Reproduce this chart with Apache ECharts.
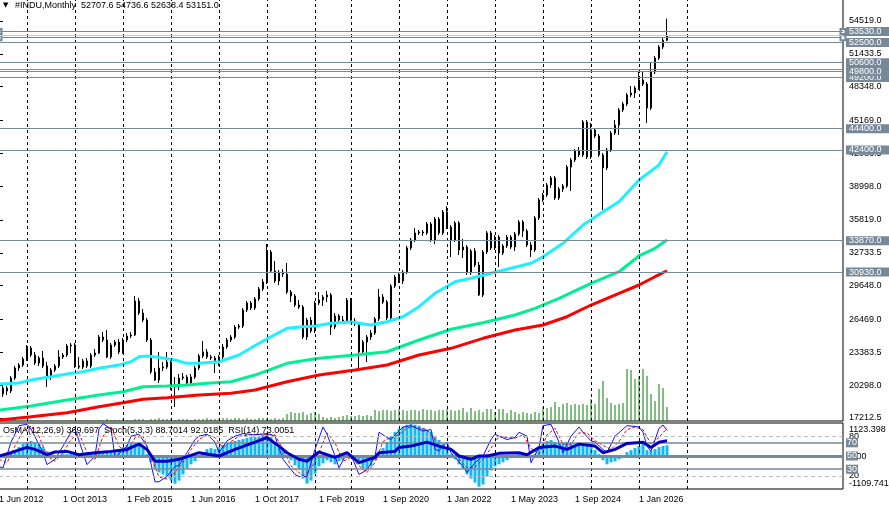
<!DOCTYPE html>
<html>
<head>
<meta charset="utf-8">
<script src="https://cdn.jsdelivr.net/npm/echarts@6/dist/echarts.min.js"></script>
<style>
html, body { margin: 0; padding: 0; background: #ffffff; }
#chart { width: 889px; height: 506px; }
</style>
</head>
<body>
<div id="chart"></div>
<script>
// 功能目的:
// 复刻 MT4 的 #INDU 月线图：蜡烛、三条均线、成交量、价位线，以及下方 OsMA / Stoch / RSI 副图。
//
// 作用范围:
// 数值都从截图估读，按 bar 序号排列；日期标签由起始月份和缺失月份生成。

const 起始年 = 2012
const 起始月 = 6
const 缺失月份 = ['2019-6', '2019-7', '2019-8']
const 总槽位 = 212
const 月份简称 = ['Jan', 'Feb', 'Mar', 'Apr', 'May', 'Jun', 'Jul', 'Aug', 'Sep', 'Oct', 'Nov', 'Dec']
const 标签间隔 = 16
const 网格最远序号 = 175

const 开盘价 = [18810, 19470, 20030, 19750, 20970, 21910, 22190, 22760, 23790, 23130,
  22380, 22850, 22100, 21070, 21720, 22100, 22950, 23130, 23980, 24070,
  22100, 22000, 22570, 22100, 23130, 23320, 24820, 24540, 22950, 24070,
  24350, 23420, 24540, 24920, 25010, 28210, 27080, 26420, 24540, 21540,
  20780, 21910, 22000, 22480, 20310, 20130, 20970, 21070, 20500, 21070,
  21910, 23040, 23420, 22950, 22850, 22380, 22950, 23890, 24540, 24820,
  25760, 25860, 27360, 28020, 27550, 28400, 29340, 29990, 32810, 31030,
  30090, 30930, 30740, 29050, 28680, 27830, 27640, 24820, 26420, 25390,
  28020, 28300, 28580, 28770, 25760, 26800, 26420, 26330, 28300, 26330,
  26050, 23420, 24350, 24820, 25200, 26520, 28580, 28110, 26610, 29620,
  30460, 30090, 30930, 33190, 33940, 34600, 34690, 34600, 35440, 33940,
  35910, 34600, 36570, 35160, 33940, 35540, 33000, 33280, 30840, 32910,
  31590, 28770, 32810, 34600, 33190, 34220, 32720, 33380, 34220, 33280,
  34500, 35630, 34790, 33470, 33000, 36010, 37700, 38170, 39110, 39770,
  37890, 38730, 39010, 40800, 41460, 42300, 41930, 45030, 41740, 44280,
  43710, 41930, 40710, 42400, 43990, 44740, 46160, 46720, 47570, 47750,
  48220, 48970, 48600, 46340, 49730, 51040, 52080, 52707.6]

const 收盘价 = [19470, 20030, 19750, 20970, 21910, 22190, 22760, 23790, 23130, 22380,
  22850, 22100, 21070, 21720, 22100, 22950, 23130, 23980, 24070, 22100,
  22000, 22570, 22100, 23130, 23320, 24820, 24540, 22950, 24070, 24350,
  23420, 24540, 24920, 25010, 28210, 27080, 26420, 24540, 21540, 20780,
  21910, 22000, 22480, 20310, 20130, 20970, 21070, 20500, 21070, 21910,
  23040, 23420, 22950, 22850, 22380, 22950, 23890, 24540, 24820, 25760,
  25860, 27360, 28020, 27550, 28400, 29340, 29990, 32810, 31030, 30090,
  30930, 30740, 29050, 28680, 27830, 27640, 24820, 26420, 25390, 28020,
  28300, 28580, 28770, 25760, 26800, 26420, 26330, 28300, 26330, 26050,
  23420, 24350, 24820, 25200, 26520, 28580, 28110, 26610, 29620, 30460,
  30090, 30930, 33190, 33940, 34600, 34690, 34600, 35440, 33940, 35910,
  34600, 36570, 35160, 33940, 35540, 33000, 33280, 30840, 32910, 31590,
  28770, 32810, 34600, 33190, 34220, 32720, 33380, 34220, 33280, 34500,
  35630, 34790, 33470, 33000, 36010, 37700, 38170, 39110, 39770, 37890,
  38730, 39010, 40800, 41460, 42300, 41930, 45030, 41740, 44280, 43710,
  41930, 40710, 42400, 43990, 44740, 46160, 46720, 47570, 47750, 48220,
  48970, 48600, 46340, 49730, 51040, 52080, 52707.6, 53151.0]

const 最高价 = [19840, 20310, 20220, 21160, 22100, 22380, 22950, 24070, 23980, 23420,
  23040, 23510, 22480, 21910, 22290, 23600, 23320, 24170, 24260, 24260,
  22950, 22760, 22850, 23320, 23700, 25010, 25290, 25480, 24260, 24540,
  24640, 24730, 25200, 25290, 28680, 28490, 27460, 26610, 24730, 21910,
  23420, 22480, 23420, 22660, 21070, 21350, 21440, 21250, 21350, 22100,
  23230, 24450, 23700, 23130, 23040, 23130, 24170, 24730, 25010, 25950,
  26050, 27550, 28210, 28210, 28580, 29520, 30270, 33560, 33000, 31970,
  31120, 31210, 31780, 29240, 28870, 28300, 27830, 26610, 26700, 28210,
  29050, 28770, 29150, 28960, 27080, 26990, 26800, 28490, 28490, 26610,
  26230, 24540, 25010, 25480, 26700, 29340, 28870, 28300, 29800, 30650,
  30840, 31120, 33380, 34130, 35070, 34880, 34880, 35630, 35630, 36100,
  36100, 36760, 37130, 35350, 35720, 35720, 34030, 33470, 33090, 33190,
  31870, 33000, 34790, 34790, 34410, 34410, 33560, 34410, 34410, 34690,
  35820, 35820, 34970, 33750, 36200, 37890, 38360, 39300, 39950, 39950,
  38920, 39200, 40990, 41650, 42490, 42680, 45220, 45220, 44930, 44460,
  43900, 42120, 42590, 44180, 45220, 46340, 46910, 47750, 48410, 48410,
  49730, 49820, 48790, 50570, 51230, 52260, 52920, 54736.6]

const 最低价 = [18530, 19190, 19370, 19560, 20780, 21630, 22000, 22570, 22950, 22190,
  22100, 21910, 20130, 20780, 21540, 21910, 22760, 22950, 23320, 21910,
  21820, 21820, 21910, 21910, 22950, 23230, 24350, 22850, 22760, 23890,
  23230, 23230, 24350, 24730, 24920, 26890, 26230, 24350, 21350, 20690,
  20500, 21630, 21820, 19840, 18250, 19840, 20780, 20310, 20310, 20880,
  21720, 22850, 22760, 22660, 21440, 22100, 22760, 23700, 24350, 24640,
  25580, 25670, 27170, 27360, 27360, 28210, 29150, 29800, 30840, 29900,
  29710, 30460, 28870, 28110, 27640, 27460, 24640, 24540, 25200, 25200,
  27830, 27740, 28110, 25010, 25580, 26140, 26140, 26140, 26230, 25860,
  21910, 23230, 22480, 24540, 25010, 26330, 27920, 26420, 26420, 29430,
  29900, 29800, 30740, 33000, 33750, 34410, 34320, 34410, 33750, 33560,
  34410, 34410, 34970, 32340, 33750, 32530, 32250, 30650, 30650, 31400,
  28680, 28580, 32620, 33000, 33000, 31400, 32530, 33190, 33090, 32910,
  34320, 34220, 33280, 32340, 32810, 35820, 37510, 37980, 38830, 37700,
  37700, 38450, 38830, 38540, 41270, 41740, 41740, 41550, 41550, 43520,
  41740, 36760, 40520, 42210, 43810, 43810, 45970, 46530, 47380, 47280,
  48040, 48410, 44930, 46160, 49540, 50850, 51890, 52638.4]

// tick volume，单位千
const 成交量 = [0.5, 0.5, 0.5, 0.5, 0.5, 0.5, 0.5, 0.5, 0.5, 0.5,
  0.5, 0.5, 0.5, 0.5, 0.5, 0.5, 0.5, 0.5, 0.5, 0.5,
  0.5, 0.5, 0.5, 0.5, 0.5, 1, 1, 2, 1, 1,
  1, 2, 1, 1, 2, 2, 2, 1, 2, 2,
  3, 2, 2, 2, 1, 2, 2, 2, 1, 2,
  2, 2, 3, 2, 2, 2, 3, 3, 2, 3,
  3, 2, 3, 2, 2, 3, 3, 3, 2, 3,
  2, 3, 7, 9, 8, 8, 9, 6, 8, 9,
  7, 4, 3, 4, 3, 4, 5, 6, 5, 5,
  6, 5, 6, 5, 11, 10, 11, 11, 10, 11,
  12, 11, 10, 11, 11, 10, 12, 11, 11, 10,
  11, 11, 12, 11, 10, 11, 13, 9, 13, 10,
  11, 9, 12, 12, 9, 12, 12, 8, 11, 9,
  7, 9, 8, 7, 9, 8, 14, 13, 14, 19,
  14, 17, 18, 16, 17, 16, 17, 16, 22, 17,
  32, 40, 23, 18, 16, 17, 18, 52, 51, 42,
  45, 52, 45, 27, 20, 37, 33, 14]
const 成交量轴上限 = 421

// 三条均线，按 bar 序号取样
const 青线序号 = [0, 5, 8, 13, 17, 21, 25, 30, 33, 35, 37, 40, 44, 47, 50, 55, 60, 65, 68, 72, 76,
  79, 83, 88, 93, 97, 101, 105, 109, 114, 118, 123, 128, 133, 136, 141, 146, 151, 155, 160, 165, 167]
const 青线数值 = [20410, 20500, 20780, 21090, 21350, 21560, 21880, 22190, 22500, 22970, 23040,
  22910, 22660, 22350, 22350, 22500, 23130, 24230, 24850, 25640, 25790, 25860, 26110, 26230,
  25950, 26260, 26730, 27670, 28930, 30020, 30340, 30810, 31280, 31750, 32370, 33630, 35350,
  36600, 37540, 39580, 40990, 42240]
const 绿线序号 = [0, 8, 17, 25, 31, 36, 42, 47, 52, 58, 64, 72, 80, 89, 97, 105, 113, 121, 129,
  134, 140, 148, 155, 160, 164, 167]
const 绿线数值 = [17960, 18340, 18900, 19370, 19680, 20150, 20220, 20310, 20470, 20620, 21250,
  22350, 22820, 23130, 23440, 24540, 25550, 26170, 26890, 27520, 28460, 29870, 30960, 32440,
  33160, 33940]
const 红线序号 = [0, 8, 17, 25, 31, 36, 42, 50, 58, 64, 72, 80, 89, 97, 105, 113, 121, 129, 136,
  142, 148, 155, 160, 164, 167]
const 红线数值 = [17020, 17330, 17710, 18270, 18650, 18970, 19120, 19370, 19530, 19840, 20620,
  21250, 21720, 22190, 23130, 23760, 24700, 25480, 25950, 26730, 27830, 28930, 29710, 30490,
  31050]

// 副图
const OsMA数值 = [-69, -34, 34, 103, 206, 309, 412, 481, 515, 481,
  412, 309, 172, 103, 34, 34, 69, 69, 103, 103,
  34, 69, 103, 103, 103, 137, 137, 137, 172, 206,
  241, 309, 378, 447, 447, 412, 275, 69, -206, -412,
  -550, -618, -687, -825, -928, -825, -618, -412, -275, -172,
  34, 137, 241, 275, 241, 309, 378, 447, 481, 515,
  550, 584, 618, 653, 653, 687, 722, 756, 653, 481,
  344, 206, 34, -137, -309, -447, -756, -928, -825, -584,
  -344, -241, -137, -206, -275, -172, -69, 0, 0, -103,
  -275, -412, -447, -344, -137, 103, 275, 481, 687, 825,
  928, 996, 1065, 1100, 1065, 1031, 962, 893, 825, 687,
  550, 412, 241, 69, -103, -275, -412, -618, -756, -893,
  -1031, -962, -687, -481, -344, -275, -206, -137, -69, 0,
  69, 69, 34, -34, 69, 275, 412, 515, 550, 481,
  447, 447, 481, 447, 412, 378, 412, 344, 309, 206,
  69, -137, -275, -206, -172, -103, 0, 137, 206, 275,
  344, 412, 206, 172, 241, 309, 344, 369.697]
const OsMA上限 = 1123.398
const OsMA下限 = -1109.741

const 随机主线序号 = [0, 1, 3, 5, 7, 8, 11, 12, 14, 16, 18, 19, 21, 22, 24, 25, 26, 28, 29, 32, 33,
  35, 37, 39, 40, 42, 44, 45, 47, 49, 50, 52, 54, 55, 57, 59, 61, 64, 67, 69, 71, 74, 75, 77, 79,
  81, 82, 84, 85, 87, 88, 90, 92, 94, 95, 97, 98, 100, 101, 103, 106, 108, 109, 110, 112, 113,
  114, 116, 117, 119, 121, 123, 124, 125, 127, 129, 130, 132, 133, 135, 136, 138, 140, 141, 143,
  145, 146, 148, 149, 151, 152, 154, 157, 160, 161, 162, 163, 165, 166, 167]
const 随机主线数值 = [34, 32, 71, 96, 98, 91, 55, 37, 45, 65, 86, 91, 55, 37, 50, 91, 99, 91, 48,
  65, 80, 83, 65, 11, 11, 19, 34, 36, 55, 75, 80, 83, 71, 55, 73, 80, 84, 82, 84, 80, 45, 22, 19,
  19, 60, 94, 83, 50, 32, 55, 52, 22, 29, 49, 86, 78, 75, 88, 94, 96, 88, 90, 60, 58, 71, 55, 48,
  34, 25, 40, 50, 75, 83, 80, 75, 78, 86, 80, 40, 63, 96, 98, 71, 55, 80, 94, 86, 73, 71, 60, 55,
  80, 96, 94, 86, 65, 57, 92, 97, 88.7014]
const 随机信号序号 = [0, 2, 4, 6, 8, 10, 12, 14, 16, 18, 20, 22, 24, 26, 28, 30, 32, 34, 36, 38,
  40, 42, 44, 46, 48, 50, 52, 54, 56, 58, 60, 63, 66, 69, 71, 73, 76, 78, 80, 82, 84, 86, 88, 90,
  92, 94, 96, 98, 100, 102, 104, 107, 109, 111, 113, 115, 117, 119, 121, 123, 125, 127, 129, 131,
  133, 135, 137, 139, 141, 143, 145, 147, 149, 151, 153, 155, 157, 159, 161, 163, 165, 167]
const 随机信号数值 = [45, 40, 65, 88, 95, 80, 50, 42, 55, 75, 85, 55, 45, 80, 95, 65, 55, 78, 80,
  50, 18, 15, 25, 40, 60, 75, 82, 78, 62, 72, 80, 82, 83, 82, 60, 35, 20, 30, 55, 85, 70, 42, 48,
  35, 25, 40, 72, 78, 82, 93, 94, 90, 75, 62, 62, 45, 32, 33, 45, 62, 80, 78, 77, 82, 62, 52, 82,
  92, 68, 68, 85, 85, 73, 66, 60, 72, 90, 94, 90, 68, 78, 92.0185]
const RSI序号 = [0, 3, 7, 9, 12, 14, 17, 20, 24, 28, 32, 35, 37, 39, 42, 45, 50, 55, 59, 64, 67,
  70, 72, 75, 77, 80, 84, 87, 90, 94, 95, 99, 100, 103, 107, 110, 113, 115, 118, 120, 122, 125,
  130, 132, 135, 139, 142, 145, 149, 151, 154, 157, 161, 163, 165, 167]
const RSI数值 = [50, 55, 63, 60, 52, 56, 57, 52, 55, 57, 60, 68, 60, 42, 42, 45, 55, 50, 60, 71,
  78, 65, 55, 45, 42, 56, 48, 55, 40, 48, 55, 57, 63, 65, 71, 65, 60, 50, 45, 50, 50, 54, 55, 52,
  63, 65, 60, 68, 65, 55, 60, 69, 71, 63, 71, 73.0051]

// 刻度与价位线
const 价格刻度 = [54519.0, 51433.5, 48348.0, 45169.0, 42083.5, 38998.0, 35819.0, 32733.5,
  29648.0, 26469.0, 23383.5, 20298.0, 17212.5]
const 价格轴下限 = 16931
const 价格轴上限 = 56586
const 标注价位 = [53530, 52500, 50600, 49200, 49800, 44400, 42400, 33870, 30930]
const 无标注价位 = [50000]
const 锚点价位 = [53530, 52950]
const 当前买价 = 53151.0
const 指标水平 = [70, 50, 30]
const 虚线水平 = [80, 20]

const 字体 = '"Liberation Sans", Arial, sans-serif'
const 价位线颜色 = '#778899'

const 日期标签 = 生成月份标签()
const 末位 = 收盘价.length - 1
const 年初序号 = 日期标签
  .map((标签, 序号) => (标签.startsWith('1 Jan') && 序号 <= 网格最远序号 ? 序号 : -1))
  .filter((序号) => 序号 >= 0)
const 标签序号 = 日期标签
  .map((标签, 序号) => (序号 % 标签间隔 === 0 && 序号 <= 末位 ? 序号 : -1))
  .filter((序号) => 序号 >= 0)

const 图表 = echarts.init(document.getElementById('chart'))
图表.setOption(取得图表配置())

function 生成月份标签() {
  const 标签 = []
  let 年 = 起始年
  let 月 = 起始月
  while (标签.length < 总槽位) {
    if (!缺失月份.includes(`${年}-${月}`)) {
      标签.push(`1 ${月份简称[月 - 1]} ${年}`)
    }
    月 += 1
    if (月 > 12) {
      月 = 1
      年 += 1
    }
  }
  return 标签
}

function 组合点(序号列表, 数值列表) {
  return 序号列表.map((序号, 位置) => [序号, 数值列表[位置]])
}

function 文字样式(额外) {
  return { color: '#000', fontSize: 9, fontFamily: 字体, fontWeight: 'normal', ...额外 }
}

function 方框标签(格式化) {
  return {
    show: true,
    position: 'end',
    distance: 3,
    formatter: (参数) => 格式化(参数.value),
    color: '#fff',
    backgroundColor: 价位线颜色,
    fontSize: 9,
    fontFamily: 字体,
    lineHeight: 9,
    padding: [0, 8, 0, 3],
  }
}

function 标记线系列(轴, 标记) {
  return {
    type: 'line',
    data: [],
    xAxisIndex: 轴.x,
    yAxisIndex: 轴.y,
    z: 轴.z ?? 1,
    silent: true,
    markLine: { silent: true, animation: false, symbol: 'none', ...标记 },
  }
}

function 年初竖线(轴) {
  return 标记线系列({ ...轴, z: 1 }, {
    lineStyle: { color: '#000', width: 1, type: [3, 3] },
    label: { show: false },
    data: 年初序号.map((序号) => ({ xAxis: 序号 })),
  })
}

function 均线系列(序号列表, 数值列表, 颜色) {
  return {
    type: 'line',
    xAxisIndex: 1,
    yAxisIndex: 0,
    data: 组合点(序号列表, 数值列表),
    showSymbol: false,
    z: 4,
    lineStyle: { color: 颜色, width: 3 },
  }
}

function 取得网格(顶部, 高度) {
  return {
    left: -1,
    right: 46,
    top: 顶部,
    height: 高度,
    outerBoundsMode: 'none',
    containLabel: false,
    show: true,
    borderColor: '#000',
    borderWidth: 1,
    backgroundColor: '#fff',
  }
}

function 取得图表配置() {
  const 表头 = '#INDU,Monthly  ' + [开盘价[末位], 最高价[末位], 最低价[末位], 收盘价[末位]]
    .map((值) => 值.toFixed(1))
    .join(' ')
  const 指标表头 = `OsMA(12,26,9) ${OsMA数值[末位].toFixed(3)}  Stoch(5,3,3) ` +
    `${随机主线数值.at(-1).toFixed(4)} ${随机信号数值.at(-1).toFixed(4)}  RSI(14) ${RSI数值.at(-1).toFixed(4)}`

  return {
    animation: false,
    backgroundColor: '#fff',
    title: [
      { text: '▼', left: 3, top: 2, padding: 0, textStyle: 文字样式({ fontSize: 7, fontFamily: '"DejaVu Sans", sans-serif' }) },
      { text: 表头, left: 15, top: 1, padding: 0, textStyle: 文字样式() },
      { text: 指标表头, left: 3, top: 426, padding: 0, textStyle: 文字样式() },
    ],
    grid: [取得网格(-1, 422), 取得网格(423, 66)],
    xAxis: [
      {
        type: 'category', gridIndex: 0, position: 'bottom', data: 日期标签, boundaryGap: false,
        axisLine: { show: false }, axisTick: { show: false }, axisLabel: { show: false },
        splitLine: { show: false },
      },
      { type: 'value', gridIndex: 0, position: 'bottom', min: 0, max: 总槽位 - 1, show: false },
      {
        type: 'category', gridIndex: 1, position: 'bottom', data: 日期标签, boundaryGap: false,
        axisLine: { show: false }, axisTick: { show: false }, axisLabel: { show: false },
        splitLine: { show: false },
      },
      {
        type: 'value', gridIndex: 1, position: 'bottom', min: 0, max: 总槽位 - 1,
        axisLine: { show: false }, axisTick: { show: false }, splitLine: { show: false },
        axisLabel: {
          customValues: 标签序号,
          formatter: (序号) => 日期标签[序号],
          align: 'left',
          margin: 6,
          ...文字样式(),
        },
      },
    ],
    yAxis: [
      {
        type: 'value', gridIndex: 0, position: 'right', min: 价格轴下限, max: 价格轴上限,
        axisLine: { show: true, lineStyle: { color: '#000' } },
        axisTick: { show: true, customValues: 价格刻度, length: 4, lineStyle: { color: '#000' } },
        axisLabel: { customValues: 价格刻度, formatter: (值) => 值.toFixed(1), margin: 6, ...文字样式() },
        splitLine: { show: false },
      },
      { type: 'value', gridIndex: 0, min: 0, max: 成交量轴上限, show: false },
      {
        type: 'value', gridIndex: 1, position: 'right', min: 0, max: 100,
        axisLine: { show: true, lineStyle: { color: '#000' } },
        axisTick: { show: false },
        axisLabel: { customValues: 虚线水平, margin: 6, ...文字样式() },
        splitLine: { show: false },
      },
      {
        type: 'value', gridIndex: 1, position: 'right', min: OsMA下限, max: OsMA上限,
        axisLine: { show: false }, axisTick: { show: false },
        axisLabel: {
          customValues: [OsMA上限, 0, OsMA下限],
          margin: 6,
          formatter: (值) => {
            if (值 > 0) return `{top|${OsMA上限.toFixed(3)}}`
            if (值 < 0) return `{bot|${OsMA下限.toFixed(3)}}`
            return '0.00'
          },
          rich: {
            top: 文字样式({ padding: [14, 0, 0, 0] }),
            bot: 文字样式({ padding: [0, 0, 11, 0] }),
          },
          ...文字样式(),
        },
        splitLine: { show: false },
      },
    ],
    series: [
      年初竖线({ x: 1, y: 0 }),
      年初竖线({ x: 3, y: 2 }),
      标记线系列({ x: 1, y: 0 }, {
        lineStyle: { color: 价位线颜色, width: 1, type: 'solid' },
        label: { show: false },
        data: 无标注价位.map((值) => ({ yAxis: 值 })),
      }),
      标记线系列({ x: 1, y: 0 }, {
        symbol: ['emptyRect', 'emptyRect'],
        symbolSize: 5,
        lineStyle: { color: 价位线颜色, width: 1, type: 'solid' },
        label: { show: false },
        data: 锚点价位.map((值) => ({ yAxis: 值 })),
      }),
      标记线系列({ x: 1, y: 0 }, {
        lineStyle: { color: '#d4c6c6', width: 1, type: 'solid' },
        label: { show: false },
        data: [{ yAxis: 当前买价 }],
      }),
      标记线系列({ x: 1, y: 0, z: 5 }, {
        lineStyle: { color: 价位线颜色, width: 1, type: 'solid' },
        label: 方框标签((值) => 值.toFixed(1)),
        data: 标注价位.map((值) => ({ yAxis: 值 })),
      }),
      {
        type: 'bar',
        xAxisIndex: 0,
        yAxisIndex: 1,
        data: 成交量,
        barWidth: 1,
        z: 2,
        itemStyle: { color: '#0a7d0a' },
      },
      {
        type: 'candlestick',
        xAxisIndex: 0,
        yAxisIndex: 0,
        data: 收盘价.map((收, 序号) => [开盘价[序号], 收, 最低价[序号], 最高价[序号]]),
        barWidth: 2,
        z: 3,
        itemStyle: {
          color: '#fff',
          color0: '#000',
          borderColor: '#000',
          borderColor0: '#000',
          borderWidth: 1,
        },
      },
      均线系列(红线序号, 红线数值, '#ff0000'),
      均线系列(绿线序号, 绿线数值, '#00ef93'),
      均线系列(青线序号, 青线数值, '#1ef0ff'),
      {
        type: 'bar',
        xAxisIndex: 2,
        yAxisIndex: 3,
        data: OsMA数值,
        barWidth: 3,
        z: 2,
        itemStyle: { color: '#12b8ee' },
      },
      标记线系列({ x: 3, y: 2, z: 3 }, {
        lineStyle: { color: '#bdbdbd', width: 1, type: [4, 3] },
        label: { show: false },
        data: 虚线水平.map((值) => ({ yAxis: 值 })),
      }),
      标记线系列({ x: 3, y: 2, z: 3 }, {
        label: { ...方框标签((值) => String(值)), padding: [0, 1, 0, 1] },
        data: 指标水平.map((值) => ({
          yAxis: 值,
          lineStyle: { color: 价位线颜色, width: 值 === 50 ? 3 : 1.5, type: 'solid' },
        })),
      }),
      {
        type: 'line',
        xAxisIndex: 3,
        yAxisIndex: 2,
        data: 组合点(随机信号序号, 随机信号数值),
        showSymbol: false,
        z: 4,
        lineStyle: { color: '#ff0000', width: 1, type: [3, 2] },
      },
      {
        type: 'line',
        xAxisIndex: 3,
        yAxisIndex: 2,
        data: 组合点(随机主线序号, 随机主线数值),
        showSymbol: false,
        z: 4,
        lineStyle: { color: '#1010ff', width: 1 },
      },
      {
        type: 'line',
        xAxisIndex: 3,
        yAxisIndex: 2,
        data: 组合点(RSI序号, RSI数值),
        showSymbol: false,
        z: 5,
        lineStyle: { color: '#0000c8', width: 3 },
      },
    ],
  }
}
</script>
</body>
</html>
